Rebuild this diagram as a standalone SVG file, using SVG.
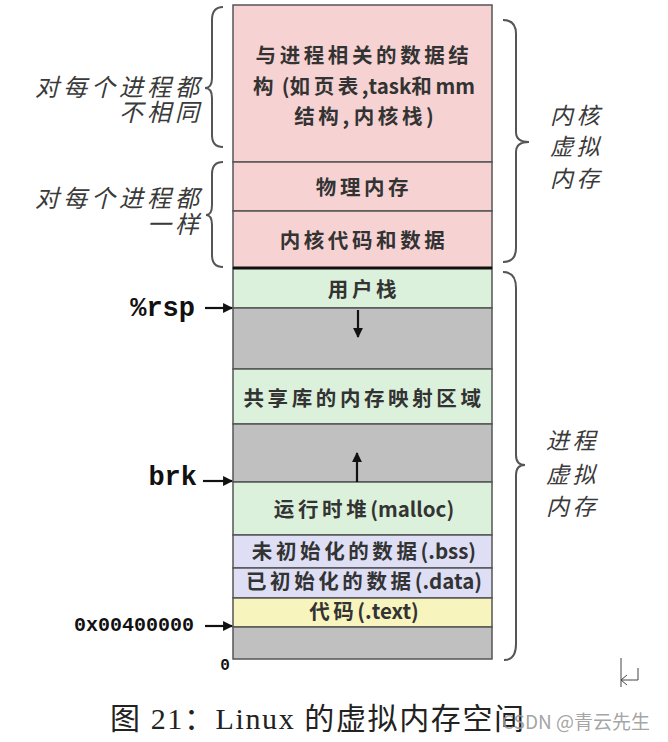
<svg xmlns="http://www.w3.org/2000/svg" width="668" height="742" viewBox="0 0 668 742">
<defs>
<style>
.box{stroke:#555;stroke-width:1.5}
.pink{fill:#f6d2d2}.green{fill:#dbf1db}.gray{fill:#c0c0c0}.lav{fill:#dedff5}.yel{fill:#f8f4bd}
.t{font-family:"Noto Sans CJK SC","Noto Sans",sans-serif;font-weight:bold;font-size:20.5px;fill:#333;text-anchor:middle}
.cj{letter-spacing:3.6px}
.side{font-family:"Noto Sans CJK SC",sans-serif;font-style:italic;font-size:24px;fill:#3a3a3a;letter-spacing:4px}
.rside{font-family:"Noto Sans CJK SC",sans-serif;font-style:italic;font-size:23px;fill:#3a3a3a;letter-spacing:3.5px}
.mono{font-family:"Liberation Mono","DejaVu Sans Mono",monospace;font-weight:bold;fill:#111}
.brace{fill:none;stroke:#555;stroke-width:2}
.arr{stroke:#111;stroke-width:2.2;fill:none}
</style>
<marker id="ah" viewBox="0 0 10 10" refX="9" refY="5" markerWidth="4.5" markerHeight="4.5" orient="auto" markerUnits="strokeWidth">
<path d="M0,0 L10,5 L0,10 z" fill="#111"/>
</marker>
</defs>
<rect width="668" height="742" fill="#fff"/>

<g id="kernel-proc"><rect class="box pink" x="233" y="5" width="259" height="157"/>
<text class="t" y="63" x="364"><tspan class="cj">与进程相关的数据结</tspan></text>
<text class="t" y="94" x="364"><tspan class="cj">构</tspan> (<tspan class="cj">如页表</tspan>,task<tspan class="cj">和</tspan>mm</text>
<text class="t" y="124" x="364"><tspan class="cj">结构</tspan>, <tspan class="cj">内核栈</tspan>)</text></g>
<g id="phys"><rect class="box pink" x="233" y="162" width="259" height="49"/>
<text class="t cj" x="364" y="195">物理内存</text></g>
<g id="kcode"><rect class="box pink" x="233" y="211" width="259" height="57"/>
<text class="t cj" x="364" y="248">内核代码和数据</text></g>
<g id="ustack"><rect class="box green" x="233" y="268" width="259" height="40"/>
<text class="t cj" x="364" y="297">用户栈</text></g>
<g id="gap1"><rect class="box gray" x="233" y="308" width="259" height="61"/></g>
<g id="shared"><rect class="box green" x="233" y="369" width="259" height="55"/>
<text class="t cj" x="364" y="406">共享库的内存映射区域</text></g>
<g id="gap2"><rect class="box gray" x="233" y="424" width="259" height="58"/></g>
<g id="heap"><rect class="box green" x="233" y="482" width="259" height="53"/>
<text class="t" x="364" y="517"><tspan class="cj">运行时堆</tspan>(malloc)</text></g>
<g id="bss"><rect class="box lav" x="233" y="535" width="259" height="33"/>
<text class="t" x="364" y="559"><tspan class="cj">未初始化的数据</tspan>(.bss)</text></g>
<g id="data"><rect class="box lav" x="233" y="568" width="259" height="30"/>
<text class="t" x="364" y="589"><tspan class="cj">已初始化的数据</tspan>(.data)</text></g>
<g id="text"><rect class="box yel" x="233" y="598" width="259" height="29"/>
<text class="t" x="364" y="619"><tspan class="cj">代码</tspan>(.text)</text></g>
<g id="gap3"><rect class="box gray" x="233" y="627" width="259" height="32"/></g>
<line x1="233" y1="268" x2="492" y2="268" stroke="#111" stroke-width="3"/>

<g id="connectors">
<line class="arr" x1="358" y1="310" x2="358" y2="337" marker-end="url(#ah)"/>
<line class="arr" x1="357" y1="482" x2="357" y2="453" marker-end="url(#ah)"/>
<line class="arr" x1="205" y1="308" x2="232" y2="308" marker-end="url(#ah)"/>
<line class="arr" x1="203" y1="481" x2="232" y2="481" marker-end="url(#ah)"/>
<line class="arr" x1="205" y1="626" x2="232" y2="626" marker-end="url(#ah)"/>
</g>

<g id="braces">
<path class="brace" d="M223,7 Q212,7 212,20 L212,78 Q212,88 205,88 Q212,88 212,98 L212,135 Q212,147 223,147"/>
<path class="brace" d="M223,162 Q212,162 212,174 L212,205 Q212,215 206,215 Q212,215 212,225 L212,255 Q212,267 223,267"/>
<path class="brace" d="M503,20 Q516,20 516,34 L516,132 Q516,142 529,142 Q516,142 516,152 L516,248 Q516,262 503,262"/>
<path class="brace" d="M503,272 Q516,272 516,288 L516,455 Q516,465 525,465 Q516,465 516,475 L516,644 Q516,660 504,660"/>
</g>

<g id="labels">
<text class="side" x="203" y="96" text-anchor="end">对每个进程都</text>
<text class="side" x="203" y="121" text-anchor="end">不相同</text>
<text class="side" x="203" y="207" text-anchor="end">对每个进程都</text>
<text class="side" x="203" y="233" text-anchor="end">一样</text>
<text class="rside" x="550" y="124">内核</text>
<text class="rside" x="550" y="155">虚拟</text>
<text class="rside" x="550" y="187">内存</text>
<text class="rside" x="546" y="449">进程</text>
<text class="rside" x="546" y="483">虚拟</text>
<text class="rside" x="546" y="515">内存</text>
<text class="mono" x="195" y="316" font-size="27" text-anchor="end">%rsp</text>
<text class="mono" x="197" y="485" font-size="27" text-anchor="end">brk</text>
<text class="mono" x="194" y="631" font-size="20" text-anchor="end">0x00400000</text>
<text class="mono" x="225" y="670" font-size="16" text-anchor="middle">0</text>
</g>

<g id="caption">
<text x="110" y="729" font-family="'Liberation Serif','Noto Sans CJK SC',serif" font-size="30" fill="#222" textLength="414" lengthAdjust="spacing">图 21：Linux 的虚拟内存空间</text>
<text x="502" y="729" font-family="'Noto Sans CJK SC','Noto Sans',sans-serif" font-size="19" fill="#999" fill-opacity="0.9">CSDN @青云先生</text>
<path d="M621,658 L621,687 M621,680 L638,680 L638,668 M621,680 L627,675 M621,680 L627,685" fill="none" stroke="#444" stroke-width="1"/>
</g>
</svg>
